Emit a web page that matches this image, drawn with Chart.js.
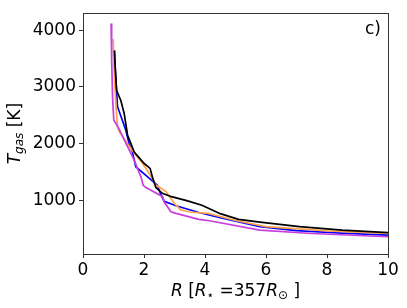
<!DOCTYPE html>
<html>
<head>
<meta charset="utf-8">
<script src="https://cdn.jsdelivr.net/npm/chart.js@4"></script>
<style>
html,body{margin:0;padding:0;background:#fff;}
#wrap{width:407px;height:308px;}
</style>
</head>
<body>
<div id="wrap"><canvas id="c"></canvas></div>
<script>
// Data
const xTicks = [0, 2, 4, 6, 8, 10];
const yTicks = [1000, 2000, 3000, 4000];

const blueX  = [1.03, 1.06, 1.10, 1.13, 1.29, 1.40, 1.51, 1.62, 1.73, 2.12, 2.44, 2.55, 2.66, 3.05, 3.8, 4.5, 5.8, 7.0, 8.5, 10];
const blueY  = [3640, 3300, 2940, 2650, 2410, 2240, 2000, 1850, 1590, 1410, 1260, 1100, 980, 900, 780, 690, 530, 460, 415, 382];

const blackX = [1.03, 1.06, 1.10, 1.24, 1.35, 1.46, 1.68, 2.0, 2.2, 2.28, 2.39, 2.6, 2.9, 3.4, 3.9, 4.5, 5.1, 5.8, 7.1, 8.5, 10];
const blackY = [3640, 3300, 2940, 2760, 2530, 2150, 1850, 1650, 1560, 1400, 1220, 1120, 1060, 990, 910, 760, 660, 610, 530, 470, 425];

const orangeX = [0.99, 1.02, 1.07, 1.13, 1.20, 1.62, 1.95, 2.23, 2.39, 2.72, 3.0, 3.2, 3.5, 4.1, 5.0, 6.0, 8.0, 10];
const orangeY = [3850, 3300, 2760, 2290, 2200, 1870, 1650, 1420, 1265, 1150, 940, 830, 790, 765, 640, 530, 455, 412];

const magentaX = [0.92, 0.94, 0.97, 1.01, 1.16, 1.68, 1.9, 1.97, 2.06, 2.17, 2.61, 2.66, 2.88, 3.05, 3.8, 4.14, 5.8, 7.5, 10];
const magentaY = [4120, 3470, 2800, 2410, 2280, 1700, 1410, 1265, 1220, 1190, 1060, 970, 795, 765, 660, 635, 470, 410, 353];

const pts = (xs, ys) => xs.map((x, i) => ({x: x, y: ys[i]}));

const FONT = "'DejaVu Sans', sans-serif";

function drawRich(ctx, parts, cx, cy) {
  let total = 0;
  parts.forEach(p => { ctx.font = p.font; p.w = ctx.measureText(p.t).width; total += p.w; });
  let x = cx - total / 2;
  ctx.textBaseline = 'middle';
  ctx.textAlign = 'left';
  parts.forEach(p => { ctx.font = p.font; ctx.fillText(p.t, x, cy + (p.dy || 0)); x += p.w; });
}

const decor = {
  id: 'decor',
  afterDraw(chart) {
    const ctx = chart.ctx, a = chart.chartArea;
    ctx.save();
    ctx.strokeStyle = '#333';
    ctx.lineWidth = 1;
    ctx.strokeRect(Math.round(a.left) + 0.5, Math.round(a.top) + 0.5, Math.round(a.right - a.left), Math.round(a.bottom - a.top));
    ctx.fillStyle = '#000';
    // panel label
    ctx.font = '17px ' + FONT;
    ctx.textAlign = 'right';
    ctx.textBaseline = 'middle';
    ctx.fillText('c)', 381, 30);
    // x title
    const n = '17px ' + FONT, it = 'italic 17px ' + FONT, sm = '12px ' + FONT, smi = 'italic 12px ' + FONT;
    drawRich(ctx, [
      {t: 'R', font: it}, {t: ' [', font: n}, {t: 'R', font: it},
      {t: '\u22C6', font: sm, dy: 4}, {t: ' =357', font: n}, {t: 'R', font: it},
      {t: '\u2299', font: sm, dy: 4}, {t: ' ]', font: n}
    ], (a.left + a.right) / 2, 292);
    // y title
    ctx.save();
    ctx.translate(16, (a.top + a.bottom) / 2);
    ctx.rotate(-Math.PI / 2);
    drawRich(ctx, [
      {t: 'T', font: it}, {t: 'gas', font: smi, dy: 4}, {t: ' [K]', font: n}
    ], 0, 0);
    ctx.restore();
    ctx.restore();
  }
};

const ds = (label, color, xs, ys) => ({
  label: label, data: pts(xs, ys), borderColor: color, backgroundColor: color,
  borderWidth: 1.7, pointRadius: 0, tension: 0, fill: false
});

new Chart(document.getElementById('c'), {
  type: 'line',
  data: {
    // first dataset is painted on top in Chart.js
    datasets: [
      ds('magenta', '#c83fdc', magentaX, magentaY),
      ds('black', '#000000', blackX, blackY),
      ds('orange', '#ffa04a', orangeX, orangeY),
      ds('blue', '#0000ff', blueX, blueY)
    ]
  },
  options: {
    responsive: true,
    maintainAspectRatio: false,
    animation: false,
    layout: {padding: {top: 13, right: 19, left: 0, bottom: 0}},
    plugins: {legend: {display: false}, tooltip: {enabled: false}},
    scales: {
      x: {
        type: 'linear', min: 0, max: 10,
        afterBuildTicks: s => { s.ticks = xTicks.map(v => ({value: v})); },
        afterFit: s => { s.height = 54; },
        ticks: {font: {family: FONT, size: 17}, color: '#000', padding: 2, maxRotation: 0,
                callback: v => String(v)},
        grid: {drawOnChartArea: false, drawTicks: true, tickLength: 4, color: '#333'},
        border: {display: true, color: '#333', width: 1}
      },
      y: {
        type: 'linear', min: 48, max: 4300,
        afterBuildTicks: s => { s.ticks = yTicks.map(v => ({value: v})); },
        afterFit: s => { s.width = 83; },
        ticks: {font: {family: FONT, size: 17}, color: '#000', padding: 3,
                callback: v => String(v)},
        grid: {drawOnChartArea: false, drawTicks: true, tickLength: 4, color: '#333'},
        border: {display: true, color: '#333', width: 1}
      }
    }
  },
  plugins: [decor]
});
</script>
</body>
</html>
